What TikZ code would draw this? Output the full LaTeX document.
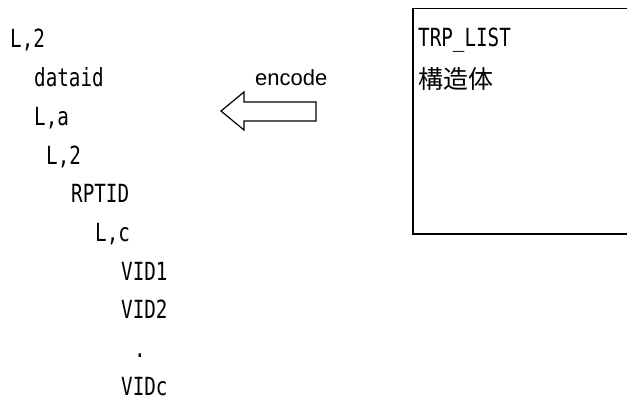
\documentclass[tikz,border=0pt]{standalone}
\usepackage{fontspec}
\newfontfamily\gothic[FakeStretch=0.77]{DejaVu Sans Mono}
\newfontfamily\cjk{Noto Sans CJK JP}
\newfontfamily\arialish{Liberation Sans}
\begin{document}
\begin{tikzpicture}[x=1pt,y=-1pt,
  line/.style={anchor=base west,inner sep=0pt,font=\gothic\fontsize{25}{25}\selectfont},
  cjkline/.style={anchor=base west,inner sep=0pt,font=\cjk\fontsize{25}{25}\selectfont},
  lbl/.style={anchor=base west,inner sep=0pt,font=\arialish\fontsize{22}{22}\selectfont},
  frame/.style={draw=black,line width=1.5pt},
  bigarrow/.style={draw=black,line width=1.2pt,fill=white,line join=miter}]
\useasboundingbox (0,0) rectangle (627,408);
% left structure listing
\node[line] (l1) at (10,47) {L,2};
\node[line] (l2) at (34,86) {dataid};
\node[line] (l3) at (34,125) {L,a};
\node[line] (l4) at (46,164) {L,2};
\node[line] (l5) at (71,202) {RPTID};
\node[line] (l6) at (95,241.5) {L,c};
\node[line] (l7) at (121,280) {VID1};
\node[line] (l8) at (121,318.5) {VID2};
\node[line] (l9) at (134,357) {.};
\node[line] (l10) at (121,395.5) {VIDc};
% encode arrow
\node[lbl] (enc) at (255,85) {encode};
\draw[bigarrow] (221,111) -- (244,92) -- (244,102) -- (316,102) -- (316,121) -- (244,121) -- (244,130) -- cycle;
% structure box
\begin{scope}
\clip (0,0) rectangle (627,408);
\draw[frame] (413,8.5) rectangle (640,234);
\end{scope}
\node[line] (trp) at (418,46) {TRP\_LIST};
\node[cjkline] (kz) at (418,88) {構造体};
\end{tikzpicture}
\end{document}
